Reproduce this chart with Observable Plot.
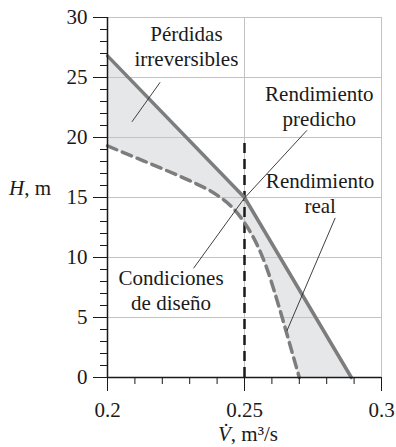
<!DOCTYPE html>
<html><head><meta charset="utf-8">
<script src="https://cdn.jsdelivr.net/npm/d3@7"></script>
<script src="https://cdn.jsdelivr.net/npm/@observablehq/plot@0.6"></script>
<style>body{margin:0;background:#fff}#chart{width:396px;height:447px}</style>
</head><body><div id="chart"></div>
<script>
// Data
const predictedV = [0.2, 0.25, 0.289];
const predictedH = [26.8, 15, 0];
const actualV = [0.2, 0.21, 0.22, 0.23, 0.24, 0.245, 0.25, 0.2545, 0.258, 0.261, 0.264, 0.267, 0.27];
const actualH = [19.3, 18.35, 17.4, 16.4, 15.2, 14.3, 12.9, 11.1, 9.2, 7.1, 4.8, 2.4, 0];
const designV = 0.25;
const designTopH = 19.6;

const yMajorTicks = [0, 5, 10, 15, 20, 25, 30];
const yMinorTicks = d3.range(0, 31, 1);
const xMajorTicks = [0.2, 0.25, 0.3];
const xMinorTicks = [0.2, 0.21, 0.22, 0.23, 0.24, 0.25, 0.26, 0.27, 0.28, 0.29, 0.3];
const xTickLabels = ["0.2", "0.25", "0.3"];

const labelTexts = ["Pérdidas\nirreversibles", "Rendimiento\npredicho", "Rendimiento\nreal", "Condiciones\nde diseño"];
const labelV = [0.2288, 0.2773, 0.2776, 0.2232];
const labelH = [26.0, 21.0, 13.7, 5.6];

const leaderFromV = [0.2192, 0.2728, 0.2314, 0.2831];
const leaderFromH = [24.6, 20.6, 9.1, 13.3];
const leaderToV = [0.2089, 0.2498, 0.2498, 0.2655];
const leaderToH = [21.3, 14.9, 14.9, 3.9];

// Tables built from the arrays
const predicted = predictedV.map((v, i) => ({v, h: predictedH[i]}));
const actual = actualV.map((v, i) => ({v, h: actualH[i]}));
const interpP = d3.scaleLinear().domain(predictedV).range(predictedH).clamp(true);
const interpA = d3.scaleLinear().domain(actualV).range(actualH).clamp(true);
const gridV = Array.from(new Set([...actualV, ...predictedV])).sort((a, b) => a - b);
const band = gridV.map(v => ({v, lo: v > 0.27 ? 0 : interpA(v), hi: interpP(v)}));
const labels = labelTexts.map((t, i) => ({t, v: labelV[i], h: labelH[i]}));
const leaders = leaderFromV.map((v, i) => ({x1: v, y1: leaderFromH[i], x2: leaderToV[i], y2: leaderToH[i]}));

const gridColor = "#c2c2c2";
const curveColor = "#7d7d7d";
const serif = "'Liberation Serif', 'Times New Roman', Times, serif";

const chart = Plot.plot({
  width: 396, height: 447,
  marginLeft: 107, marginRight: 15, marginTop: 17, marginBottom: 70,
  x: {domain: [0.2, 0.3]},
  y: {domain: [0, 30]},
  style: {fontFamily: serif, fontSize: "21px", color: "#1a1a1a", background: "#fff", overflow: "visible"},
  marks: [
    Plot.areaY(band, {x: "v", y1: "lo", y2: "hi", fill: "#e6e7e9"}),
    Plot.gridY([5, 10, 15, 20, 25, 30], {stroke: gridColor, strokeOpacity: 1, strokeWidth: 1}),
    Plot.gridX([0.25, 0.3], {stroke: gridColor, strokeOpacity: 1, strokeWidth: 1}),
    Plot.ruleX([designV], {y1: 0, y2: designTopH, stroke: "#1a1a1a", strokeWidth: 2.5, strokeDasharray: "10,6"}),
    Plot.line(actual, {x: "v", y: "h", stroke: curveColor, strokeWidth: 3.5, strokeDasharray: "10,6", curve: "monotone-x"}),
    Plot.line(predicted, {x: "v", y: "h", stroke: curveColor, strokeWidth: 3.5}),
    Plot.link(leaders, {x1: "x1", y1: "y1", x2: "x2", y2: "y2", stroke: "#2a2a2a", strokeWidth: 0.9}),
    Plot.text(labels, {x: "v", y: "h", text: "t", lineAnchor: "bottom", lineHeight: 1.19, textAnchor: "middle", fill: "#1a1a1a"}),
    Plot.axisY(yMajorTicks, {tickSize: 14, tickPadding: 6, label: null}),
    Plot.axisY(yMinorTicks, {tickSize: 7, text: null, label: null}),
    Plot.axisX(xMajorTicks, {tickSize: 14, tickPadding: 11, label: null, tickFormat: (d, i) => xTickLabels[i]}),
    Plot.axisX(xMinorTicks, {tickSize: 7, text: null, label: null}),
    Plot.ruleX([0.2], {stroke: "#1a1a1a", strokeWidth: 1.5}),
    Plot.ruleY([0], {stroke: "#1a1a1a", strokeWidth: 1.5})
  ]
});
chart.setAttribute("font-family", serif);
chart.style.fontFamily = serif;
document.getElementById("chart").appendChild(chart);

// Axis titles with mixed italic text
const svg = d3.select(chart);
const yt = svg.append("text").attr("x", 9).attr("y", 195).attr("text-anchor", "start")
  .attr("fill", "#1a1a1a").attr("font-size", 21).attr("font-family", serif);
yt.append("tspan").attr("font-style", "italic").text("H");
yt.append("tspan").text(", m");
const xt = svg.append("text").attr("x", 248).attr("y", 441).attr("text-anchor", "middle")
  .attr("fill", "#1a1a1a").attr("font-size", 21).attr("font-family", serif);
xt.append("tspan").attr("font-style", "italic").text("V\u0307");
xt.append("tspan").text(", m\u00b3/s");
</script>
</body></html>
